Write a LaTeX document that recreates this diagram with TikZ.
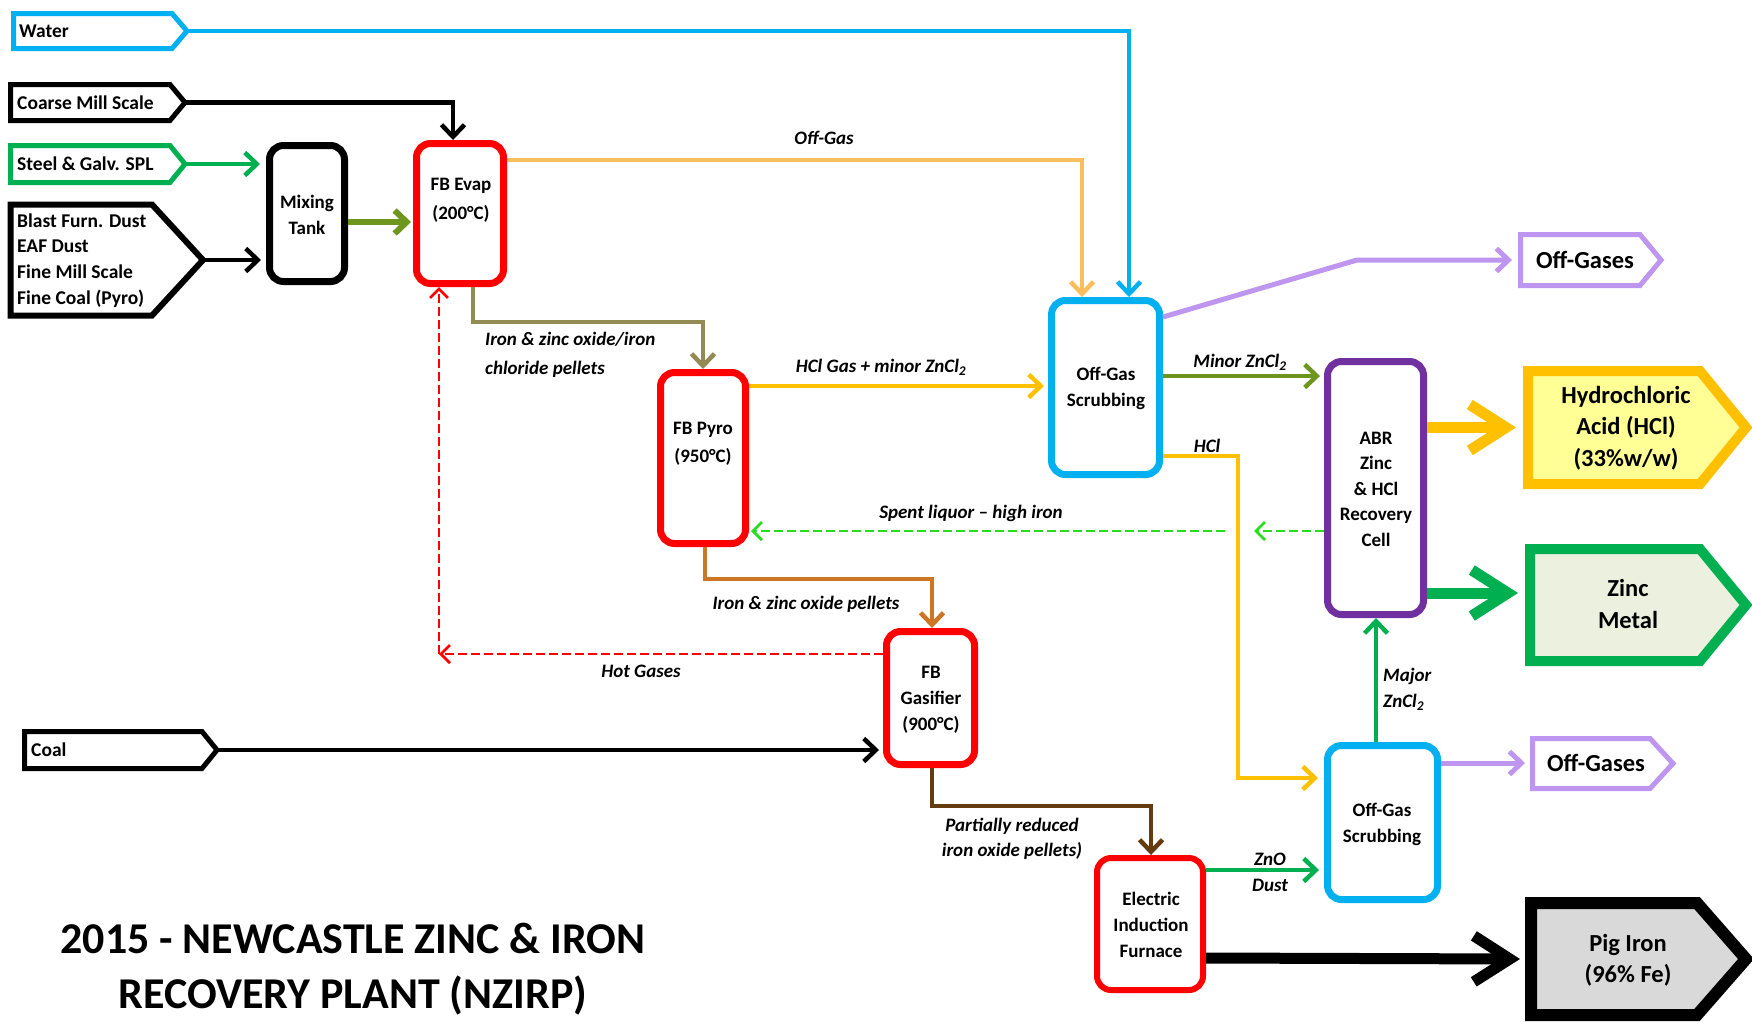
\documentclass[tikz,border=0pt]{standalone}
\usepackage{fontspec}
\setmainfont{Carlito}
\usetikzlibrary{arrows.meta}
\definecolor{cblue}{RGB}{0,176,240}
\definecolor{cgreen}{RGB}{0,176,80}
\definecolor{colive}{RGB}{110,150,30}
\definecolor{clorange}{RGB}{250,190,95}
\definecolor{cgold}{RGB}{255,192,0}
\definecolor{colbrown}{RGB}{148,138,84}
\definecolor{corbrown}{RGB}{205,118,35}
\definecolor{cdbrown}{RGB}{100,60,15}
\definecolor{cred}{RGB}{255,0,0}
\definecolor{cpurple}{RGB}{190,150,240}
\definecolor{cabr}{RGB}{112,48,160}
\definecolor{cdgreen}{RGB}{40,220,30}
\definecolor{chclfill}{RGB}{255,255,150}
\definecolor{cznfill}{RGB}{235,241,222}
\definecolor{cpigfill}{RGB}{217,217,217}
\newcommand{\sigpoly}[6]{\path[#1] (#2,#3) -- (#4,#3) -- (#5,{(#3+#6)/2}) -- (#4,#6) -- (#2,#6) -- cycle;}
\begin{document}
\begin{tikzpicture}[x=1pt,y=-1pt,
  inbox/.style={draw, line width=5pt, line join=miter, fill=white},
  outbox/.style={draw, line width=10pt, line join=miter},
  intext/.style={font=\fontsize{19.5}{25.7}\selectfont\bfseries, anchor=west, align=left, inner sep=0pt},
  proc/.style={draw, rounded corners=14pt, line width=7pt, fill=white, inner sep=0pt},
  ptext/.style={font=\fontsize{19}{26}\selectfont\bfseries, align=center, inner sep=0pt},
  otext/.style={font=\fontsize{24.5}{31.5}\selectfont\bfseries, align=center, inner sep=0pt},
  lab/.style={font=\fontsize{19}{26}\selectfont\bfseries\itshape, align=center, inner sep=0pt},
  conn/.style={line width=4.5pt, -{Straight Barb[length=12pt,width=23pt]}},
  bigconn/.style={line width=11pt, -{Straight Barb[length=36pt,width=46pt]}},
  dconn/.style={line width=2.8pt, dash pattern=on 9pt off 4pt, -{Straight Barb[length=9pt,width=18pt]}}
]
\useasboundingbox (0,0) rectangle (1752,1021);
\clip (0,0) rectangle (1752,1021);
\fill[white] (0,0) rectangle (1752,1021);

% ---------- input boxes ----------
\sigpoly{inbox,draw=cblue}{13.5}{13.5}{172}{187}{48.5}
\coordinate (watertip) at (187,31);
\node[intext] (water) at (19,31) {Water};

\sigpoly{inbox}{10.5}{84.5}{170}{185}{120.5}
\coordinate (coarsetip) at (185,102.5);
\node[intext] (coarse) at (17,102.5) {Coarse Mill Scale};

\sigpoly{inbox,draw=cgreen}{10.5}{145.5}{170}{185}{182.5}
\coordinate (steeltip) at (185,164);
\node[intext] (steel) at (17,164) {Steel \& Galv. SPL};

\sigpoly{inbox,line width=6pt}{10.5}{204.5}{152}{203}{315.5}
\coordinate (blasttip) at (203,260);
\node[intext] (blast) at (17,260.5) {Blast Furn. Dust\\EAF Dust\\Fine Mill Scale\\Fine Coal (Pyro)};

\sigpoly{inbox}{24.5}{731.5}{202}{217}{768.5}
\coordinate (coaltip) at (217,750);
\node[intext] (coal) at (31,750) {Coal};

% ---------- process boxes ----------
\node[proc, minimum width=75pt, minimum height=136pt] (mix) at (307,213.5) {};
\node[ptext] (mixt) at (307,215) {Mixing\\Tank};

\node[proc, draw=cred, minimum width=87pt, minimum height=140pt] (evap) at (460,213.5) {};
\node[ptext, font=\fontsize{19}{29}\selectfont\bfseries] (evapt) at (461,200) {FB Evap\\(200°C)};

\node[proc, draw=cred, minimum width=85pt, minimum height=171pt] (pyro) at (703,458) {};
\node[ptext, font=\fontsize{19}{28}\selectfont\bfseries] (pyrot) at (703,444) {FB Pyro\\(950°C)};

\node[proc, draw=cred, minimum width=88pt, minimum height=133pt] (gas) at (930.5,698) {};
\node[ptext] (gast) at (931,700) {FB\\Gasifier\\(900°C)};

\node[proc, draw=cred, line width=6pt, minimum width=106pt, minimum height=132pt] (eif) at (1150,924) {};
\node[ptext] (eift) at (1151,925) {Electric\\Induction\\Furnace};

\node[proc, draw=cblue, minimum width=108pt, minimum height=174pt] (ogs1) at (1105.5,387.5) {};
\node[ptext] (ogs1t) at (1106,388) {Off-Gas\\Scrubbing};

\node[proc, draw=cblue, minimum width=110pt, minimum height=154pt] (ogs2) at (1382.5,822.5) {};
\node[ptext] (ogs2t) at (1382,824) {Off-Gas\\Scrubbing};

\node[proc, draw=cabr, minimum width=96pt, minimum height=253pt] (abr) at (1375.5,488) {};
\node[ptext, font=\fontsize{19}{25.5}\selectfont\bfseries] (abrt) at (1376,489) {ABR\\Zinc\\\& HCl\\Recovery\\Cell};

% ---------- output boxes ----------
\sigpoly{inbox,draw=cpurple}{1520.5}{234.5}{1640}{1661}{285.5}
\coordinate (og1w) at (1518,260);
\node[otext] (og1) at (1585,260) {Off-Gases};

\sigpoly{inbox,draw=cpurple}{1532.5}{738.5}{1650}{1673}{788.5}
\coordinate (og2w) at (1530,763.5);
\node[otext] (og2) at (1596,763) {Off-Gases};

\sigpoly{outbox,draw=cgold,fill=chclfill}{1528}{371}{1700}{1746}{484}
\coordinate (hclw) at (1523,427.5);
\node[otext] (hcl) at (1626,428) {Hydrochloric\\Acid (HCl)\\(33\%w/w)};

\sigpoly{outbox,draw=cgreen,fill=cznfill}{1530}{549}{1700}{1746}{661}
\coordinate (znw) at (1525,605);
\node[otext] (zn) at (1628,604) {Zinc\\Metal};

\sigpoly{outbox,line width=12pt,draw=black,fill=cpigfill}{1531}{903}{1697}{1746}{1015}
\coordinate (pigw) at (1525,959);
\node[otext] (pig) at (1628,960) {Pig Iron\\(96\% Fe)};

% ---------- connectors ----------
\draw[conn,cblue] (watertip) -| ([shift={(23.5,0)}]ogs1.north);
\draw[conn] (coarsetip) -| ([shift={(-7,0)}]evap.north);
\draw[conn,cgreen,shorten >=6pt] (steeltip) -- (steeltip -| mix.west);
\draw[conn,shorten >=5pt] (blasttip) -- (blasttip -| mix.west);
\draw[conn,colive,line width=6pt,shorten >=2pt] ([shift={(0,8.5)}]mix.east) -- ([shift={(0,8.5)}]evap.west);

\draw[conn,clorange] ([shift={(0,-53.5)}]evap.east) -| ([shift={(-23.5,0)}]ogs1.north);
\node[lab] (lofg) at (824,138) {Off-Gas};

\draw[conn,colbrown] ([shift={(13,0)}]evap.south) |- ([shift={(0,-47)}]pyro.north) -- (pyro.north);
\node[lab, align=left, anchor=west, font=\fontsize{19}{29}\selectfont\bfseries\itshape] (lpel1) at (485,354.5) {Iron \& zinc oxide/iron\\chloride pellets};

\draw[conn,cgold,shorten >=4pt] ([shift={(0,-72)}]pyro.east) -- ([shift={(0,-72)}]pyro.east -| ogs1.west);
\node[lab] (lhclg) at (881,367) {HCl Gas + minor ZnCl\textsubscript{2}};

\draw[conn,cpurple,line width=5pt,shorten >=6pt] ([shift={(0,-70.5)}]ogs1.east) -- ([shift={(-161,0)}]og1w) -- (og1w);

\draw[conn,colive,shorten >=4pt] ([shift={(0,-11.5)}]ogs1.east) -- ([shift={(0,-11.5)}]ogs1.east -| abr.west);
\node[lab] (lminor) at (1240,362) {Minor ZnCl\textsubscript{2}};

\draw[conn,cgold,shorten >=6pt] ([shift={(0,68.5)}]ogs1.east) -- ++(75,0) |- ([shift={(0,-44.5)}]ogs2.west);
\node[lab] (lhcl) at (1207,446) {HCl};

\draw[dconn,cdgreen] ([shift={(0,43)}]abr.west) -- ++(-70,0);
\draw[dconn,cdgreen,shorten >=2pt] ([shift={(-99,43)}]abr.west) -- ([shift={(0,43)}]abr.west -| pyro.east);
\node[lab] (lspent) at (971,513) {Spent liquor – high iron};

\draw[bigconn,cgold,shorten >=7pt] (abr.east |- hclw) -- (hclw);
\draw[bigconn,cgreen,shorten >=7pt] ([shift={(0,105)}]abr.east) -- ([shift={(0,105)}]abr.east -| znw);

\draw[conn,corbrown] ([shift={(2,0)}]pyro.south) |- ([shift={(1.5,-49)}]gas.north) -- ([shift={(1.5,0)}]gas.north);
\node[lab] (lpel2) at (806,604) {Iron \& zinc oxide pellets};

\coordinate (hgcorner) at (439,654);
\draw[dconn,cred] (gas.west |- hgcorner) -- (hgcorner);
\draw[dconn,cred] (hgcorner) -- (hgcorner |- evap.south);
\node[lab] (lhot) at (641,671) {Hot Gases};

\draw[conn,shorten >=4pt] (coaltip) -- (coaltip -| gas.west);

\draw[conn,cdbrown] ([shift={(1.5,0)}]gas.south) |- ([shift={(1,-49)}]eif.north) -- ([shift={(1,0)}]eif.north);
\node[lab, font=\fontsize{19}{25}\selectfont\bfseries\itshape] (lpart) at (1012,838.5) {Partially reduced\\iron oxide pellets)};

\draw[conn,cgreen] ([shift={(-6.5,0)}]ogs2.north) -- ([shift={(0.5,0)}]abr.south);
\node[lab, align=left, anchor=west] (lmajor) at (1383,689) {Major\\ZnCl\textsubscript{2}};

\draw[conn,cpurple,line width=5pt,shorten >=5pt] ([shift={(0,-59.5)}]ogs2.east) -- ([shift={(0,-59.5)}]ogs2.east -| og2w);

\draw[conn,cgreen,shorten >=5pt] ([shift={(0,-54)}]eif.east) -- ([shift={(0,-54)}]eif.east -| ogs2.west);
\node[lab] (lzno) at (1270,872) {ZnO\\Dust};

\draw[bigconn,shorten >=5pt] ([shift={(0,34)}]eif.east) -- (pigw);

% ---------- title ----------
\node[font=\fontsize{44}{55}\selectfont\bfseries, align=center, inner sep=0pt] (title) at (353,969.5) {2015 - NEWCASTLE ZINC \& IRON\\RECOVERY PLANT (NZIRP)};
\end{tikzpicture}
\end{document}
